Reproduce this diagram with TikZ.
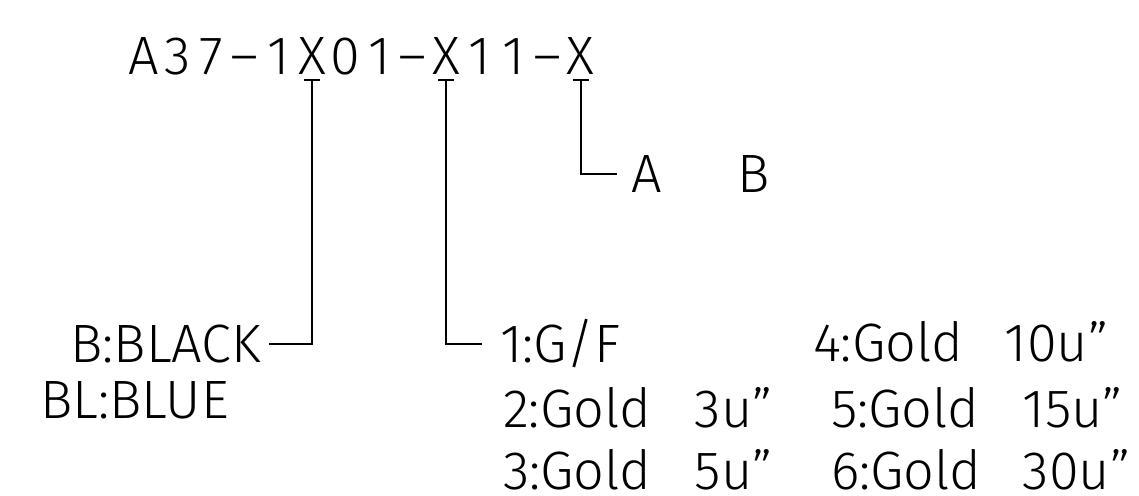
\documentclass[tikz,border=0pt]{standalone}
\usepackage{fontspec}
\setmainfont{Fira Sans Light}
\usetikzlibrary{calc}

\newcommand{\platecode}[2]{\makebox[96pt][l]{#1:Gold}#2u”}

\tikzset{
    lead/.style={line width=1pt},
    txt/.style={inner sep=0pt, outer sep=0pt, text height=18.6pt, text depth=0pt,
        font=\fontsize{27}{30}\selectfont},
}

\begin{document}
\begin{tikzpicture}[x=0.5pt, y=-0.5pt]
\useasboundingbox (0,0) rectangle (1139,496);

% part number, one character per cell
\foreach \ch [count=\i from 0] in {A,3,7,–,1,X,0,1,–,X,1,1,–,X}
    \node [txt, anchor=base] (c\i) at (144+33.6*\i, 75) {\ch};

% colour
\node [txt, anchor=east, inner xsep=4pt] (black) at (269,344) {B:BLACK};
\node [txt, anchor=base west] (blue) at (40,418) {BL:BLUE};

% plating
\node [txt, anchor=west, inner xsep=9pt] (gf) at (482,344) {1:G/F};
\node [txt, anchor=base west] (g3) at (503,427) {\platecode{2}{3}};
\node [txt, anchor=base west] (g5) at (503,489) {\platecode{3}{5}};
\node [txt, anchor=base west] (g10) at (813,362) {\platecode{4}{10}};
\node [txt, anchor=base west] (g15) at (831,427) {\platecode{5}{15}};
\node [txt, anchor=base west] (g30) at (831,489) {\platecode{6}{30}};

% last digit
\node [txt, anchor=west, inner xsep=7pt] (optA) at (617,174) {A};
\node [txt, anchor=base west] (optB) at (737,193) {B};

% leaders
\foreach \c/\t in {c5/black.east, c9/gf.west, c13/optA.west} {
    \draw [lead] ($(\c.base)+(-8,5)$) -- ($(\c.base)+(8,5)$);
    \draw [lead] ($(\c.base)+(0,5)$) |- (\t);
}
\end{tikzpicture}
\end{document}
